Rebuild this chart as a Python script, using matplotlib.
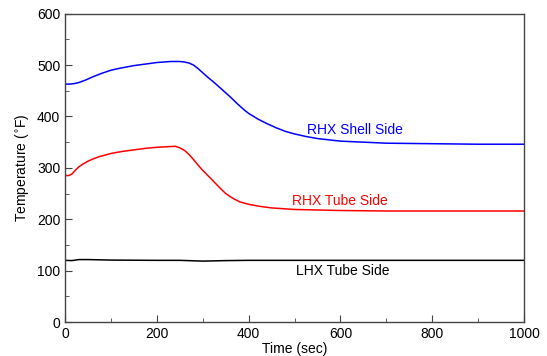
import numpy as np
import matplotlib
matplotlib.use("Agg")
import matplotlib.pyplot as plt
from matplotlib.ticker import MultipleLocator

plt.rcParams['font.family'] = ['Liberation Sans', 'DejaVu Sans']

shell_t = [0, 10, 20, 30, 45, 60, 80, 100, 120, 150, 175, 200, 230, 250, 260, 270, 280, 290, 300, 310, 325, 340, 350, 360, 375, 390, 400, 420, 440, 460, 480, 500, 525, 550, 600, 650, 700, 800, 900, 1000]
shell_v = [463, 463, 464, 466, 471, 477, 484, 490, 494, 499, 502, 505, 507, 507, 506, 504, 500, 493, 485, 477, 466, 454, 446, 438, 425, 413, 406, 395, 386, 378, 371, 366, 361, 357, 352, 350, 348, 347, 346, 346]

tube_t = [0, 8, 15, 22, 30, 40, 50, 60, 75, 100, 125, 150, 175, 200, 220, 240, 250, 260, 270, 280, 290, 300, 310, 320, 335, 350, 365, 380, 400, 425, 450, 500, 550, 600, 700, 800, 1000]
tube_v = [285, 285, 288, 295, 302, 308, 313, 317, 322, 328, 332, 335, 338, 340, 341, 342, 339, 334, 326, 316, 305, 295, 286, 277, 263, 250, 241, 234, 229, 225, 222, 219, 218, 217, 216, 216, 216]

lhx_t = [0, 15, 30, 50, 100, 200, 250, 300, 350, 400, 600, 800, 1000]
lhx_v = [120, 119.5, 121.5, 121.5, 120.5, 120, 120, 118.5, 119.5, 120, 120, 120, 120]

fig = plt.figure(figsize=(5.47, 3.56), dpi=100)
ax = fig.add_axes([0.119, 0.0955, 0.839, 0.866])

ax.plot(shell_t, shell_v, color='#0000ff', lw=1.1)
ax.plot(tube_t, tube_v, color='#ff0000', lw=1.1)
ax.plot(lhx_t, lhx_v, color='black', lw=1.1)

ax.text(632, 374, 'RHX Shell Side', color='#0000ff', fontsize=10, ha='center', va='center')
ax.text(599, 236, 'RHX Tube Side', color='#ff0000', fontsize=10, ha='center', va='center')
ax.text(606, 99, 'LHX Tube Side', color='black', fontsize=10, ha='center', va='center')

ax.set_xlim(0, 1000)
ax.set_ylim(0, 600)
ax.xaxis.set_major_locator(MultipleLocator(200))
ax.xaxis.set_minor_locator(MultipleLocator(100))
ax.yaxis.set_major_locator(MultipleLocator(100))
ax.yaxis.set_minor_locator(MultipleLocator(50))
ax.tick_params(which='both', direction='in', top=False, right=False, labelsize=10, color='#444444')
ax.tick_params(which='major', length=5)
ax.tick_params(which='minor', length=3)
for s in ax.spines.values():
    s.set_color('#444444')
    s.set_linewidth(1.0)

ax.set_xlabel('Time (sec)', fontsize=10, labelpad=1)
ax.set_ylabel('Temperature ($^{\\circ}$F)', fontsize=10, labelpad=4)

fig.savefig('out.png', dpi=100)
